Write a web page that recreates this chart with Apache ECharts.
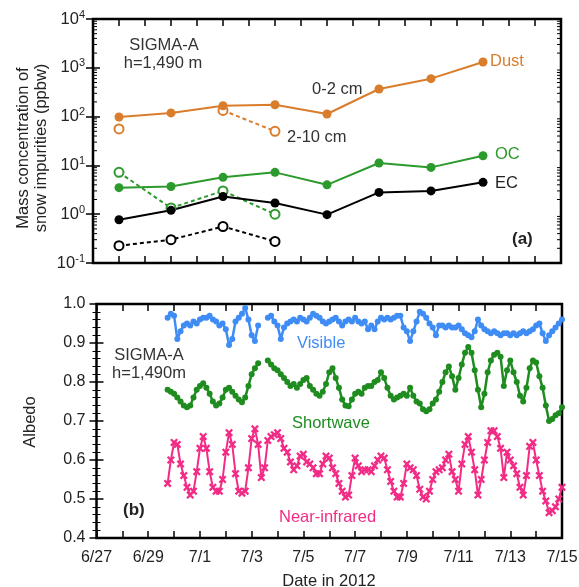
<!DOCTYPE html>
<html><head><meta charset="utf-8">
<script src="https://cdn.jsdelivr.net/npm/echarts@6/dist/echarts.min.js"></script>
<style>html,body{margin:0;padding:0;background:#fff}#c{width:579px;height:587px}</style>
</head><body><div id="c"></div>
<script>
// ---------- DATA ----------
const sampleDates = ['6/28','6/30','7/2','7/4','7/6','7/8','7/10','7/12'];
const dust02  = [98, 119, 167, 175, 113, 368, 599, 1315];
const dust210 = [56, null, 134, 50, null, null, null, null];
const oc02    = [3.5, 3.7, 5.7, 7.2, 4.0, 11.2, 9.1, 15.8];
const oc210   = [7.2, 1.34, 3.0, 1.0, null, null, null, null];
const ec02    = [0.77, 1.2, 2.3, 1.7, 0.98, 2.8, 3.0, 4.5];
const ec210   = [0.226, 0.30, 0.56, 0.277, null, null, null, null];
const xTickLabels = ['6/27','6/29','7/1','7/3','7/5','7/7','7/9','7/11','7/13','7/15'];
const albedoStart = '2012-06-29T18:00:00Z';
const albedoStepHours = 3;
const visible = [.965,.975,
 .97,.91,.93,.945,.95,.945,.955,.95,
 .96,.965,.965,.97,.96,.955,.945,.95,
 .935,.895,.91,.955,.965,.975,.99,.96,
 .92,.905,.945,null,null,.965,.97,.955,
 .945,.91,.94,.95,.955,.96,.955,.965,
 .96,.955,.965,.975,.97,.965,.955,.95,
 .955,.96,.965,.955,.945,.955,.96,.955,
 .965,.955,.95,.955,.935,.945,.935,.955,
 .965,.96,.965,.96,.965,.97,.97,.94,
 .93,.905,.93,.955,.98,.975,.965,.95,
 .94,.92,.945,.945,.94,.945,.94,.94,
 .945,.935,.925,.92,.915,.93,.96,.945,
 .935,.93,.925,.93,.925,.92,.925,.925,
 .92,.925,.92,.925,.93,.925,.93,.935,
 .945,.95,.925,.905,.92,.93,.94,.95,
 .96];
const shortwave = [.78,.775,
 .77,.76,.75,.74,.735,.74,.76,.78,
 .79,.797,.785,.77,.75,.74,.745,.76,
 .78,.785,.775,.765,.755,.748,.76,.79,
 .82,.835,.848,null,null,.855,.845,.835,
 .83,.82,.81,.80,.79,.795,.785,.795,
 .805,.81,.79,.78,.77,.765,.775,.795,
 .825,.835,.81,.785,.755,.74,.738,.755,
 .77,.775,.77,.785,.79,.79,.80,.805,
 .825,.81,.785,.765,.755,.76,.765,.77,
 .765,.785,.765,.75,.745,.73,.725,.73,
 .745,.755,.775,.80,.825,.84,.815,.78,
 .81,.845,.875,.89,.875,.83,.78,.735,
 .77,.825,.855,.87,.875,.865,.79,.83,
 .855,.825,.80,.765,.75,.785,.835,.855,
 .85,.815,.785,.74,.70,.705,.715,.72,
 .735];
const nearInfrared = [.54,.60,
 .645,.64,.59,.56,.53,.51,.52,.57,
 .63,.66,.63,.57,.53,.52,.52,.55,
 .62,.67,.64,.565,.52,.515,.52,.58,
 .655,.68,.64,.555,.58,.65,.66,.665,
 .67,.655,.63,.62,.595,.575,.585,.61,
 .615,.595,.59,.58,.565,.565,.59,.61,
 .605,.58,.565,.54,.52,.505,.51,.56,
 .605,.585,.57,.575,.575,.57,.585,.60,
 .61,.605,.575,.545,.52,.505,.505,.54,
 .59,.58,.575,.56,.525,.505,.50,.52,
 .55,.57,.575,.58,.60,.615,.57,.55,
 .52,.59,.64,.66,.62,.575,.51,.55,
 .60,.645,.675,.675,.66,.63,.555,.62,
 .60,.585,.565,.53,.51,.56,.635,.645,
 .60,.56,.52,.495,.465,.47,.48,.50,
 .53];

// ---------- helpers ----------
const T0 = Date.UTC(2012, 5, 27);
function dayOf(md){ const p = md.split('/').map(Number); return (Date.UTC(2012, p[0]-1, p[1]) - T0)/864e5; }
const sampleX = sampleDates.map(dayOf);
const pairs = arr => arr.map((v,i)=>[sampleX[i], v]);
const aStart = (Date.parse(albedoStart) - T0)/864e5;
const tseries = arr => arr.map((v,i)=>[aStart + i*albedoStepHours/24, v]);

const FONT = 'Liberation Sans, Arial, Helvetica, sans-serif';
const ORANGE = '#d97d2c', OCG = '#2c9a2c', BLUE = '#3f8cf5', SWG = '#1f8c1f', PINK = '#f22c86';

const axLine = {show:false};
const tick = {show:true, inside:true, length:7, lineStyle:{color:'#000', width:1.5}};
function xAx(grid, pos, labels){
  return {type:'value', gridIndex:grid, position:pos, min:0, max:18, interval:1,
    axisLine:axLine, axisTick:tick, splitLine:{show:false},
    axisLabel: labels ? {show:true, margin:12, fontFamily:FONT, fontSize:16, color:'#222',
      formatter: v => (Math.round(v)%2===0 ? xTickLabels[Math.round(v)/2] : '')} : {show:false}};
}
const X_SYM_PATH = 'path://M0,2L2,0L5,3L8,0L10,2L7,5L10,8L8,10L5,7L2,10L0,8L3,5Z';

const option = {
  animation:false,
  backgroundColor:'#fff',
  grid:[
    {left:93, top:19, width:468, height:244, outerBoundsMode:'none', show:true, borderColor:'#000', borderWidth:2.5, backgroundColor:'transparent'},
    {left:96.5, top:304, width:465.5, height:234, outerBoundsMode:'none', show:true, borderColor:'#000', borderWidth:2.5, backgroundColor:'transparent'}
  ],
  xAxis:[ xAx(0,'bottom',false), xAx(0,'top',false), xAx(1,'bottom',true), xAx(1,'top',false) ],
  yAxis:[
    {type:'log', logBase:10, gridIndex:0, position:'left', min:0.1, max:10000, interval:1,
      axisLine:axLine, axisTick:tick, splitLine:{show:false},
      axisLabel:{margin:8, fontFamily:FONT, color:'#222',
        formatter: v => '{b|10}{s|' + Math.round(Math.log10(v)) + '}',
        rich:{b:{fontSize:16.5, fontFamily:FONT, color:'#222', lineHeight:20},
              s:{fontSize:11, fontFamily:FONT, color:'#222', verticalAlign:'top', lineHeight:20}}}},
    {type:'log', logBase:10, gridIndex:0, position:'right', min:0.1, max:10000, interval:1,
      axisLine:axLine, axisTick:tick, splitLine:{show:false}, axisLabel:{show:false}},
    {type:'value', gridIndex:1, position:'left', min:0.4, max:1.0, interval:0.1,
      axisLine:axLine, axisTick:tick, minorTick:{show:true, splitNumber:5, length:4, lineStyle:{color:'#000', width:1}},
      splitLine:{show:false},
      axisLabel:{margin:11, fontFamily:FONT, fontSize:16, color:'#222', formatter: v => v.toFixed(1)}},
    {type:'value', gridIndex:1, position:'right', min:0.4, max:1.0, interval:0.1,
      axisLine:axLine, axisTick:tick, minorTick:{show:true, splitNumber:5, length:4, lineStyle:{color:'#000', width:1}},
      splitLine:{show:false}, axisLabel:{show:false}}
  ],
  series:[
    {type:'line', xAxisIndex:0, yAxisIndex:0, data:pairs(dust210), symbol:'emptyCircle', symbolSize:9,
      lineStyle:{color:ORANGE, width:2, type:[4,3]}, itemStyle:{color:ORANGE, borderColor:ORANGE, borderWidth:1.6}},
    {type:'line', xAxisIndex:0, yAxisIndex:0, data:pairs(oc210), symbol:'emptyCircle', symbolSize:9,
      lineStyle:{color:OCG, width:2, type:[4,3]}, itemStyle:{color:OCG, borderColor:OCG, borderWidth:1.6}},
    {type:'line', xAxisIndex:0, yAxisIndex:0, data:pairs(ec210), symbol:'emptyCircle', symbolSize:9,
      lineStyle:{color:'#000', width:2, type:[4,3]}, itemStyle:{color:'#000', borderColor:'#000', borderWidth:1.6}},
    {type:'line', xAxisIndex:0, yAxisIndex:0, data:pairs(dust02), symbol:'circle', symbolSize:9,
      lineStyle:{color:ORANGE, width:2}, itemStyle:{color:ORANGE}},
    {type:'line', xAxisIndex:0, yAxisIndex:0, data:pairs(oc02), symbol:'circle', symbolSize:9,
      lineStyle:{color:OCG, width:2}, itemStyle:{color:OCG}},
    {type:'line', xAxisIndex:0, yAxisIndex:0, data:pairs(ec02), symbol:'circle', symbolSize:9,
      lineStyle:{color:'#000', width:2}, itemStyle:{color:'#000'}},
    {type:'line', xAxisIndex:2, yAxisIndex:2, data:tseries(visible), symbol:'circle', symbolSize:6,
      lineStyle:{color:BLUE, width:2.5}, itemStyle:{color:BLUE}},
    {type:'line', xAxisIndex:2, yAxisIndex:2, data:tseries(shortwave), symbol:'circle', symbolSize:6,
      lineStyle:{color:SWG, width:2.5}, itemStyle:{color:SWG}},
    {type:'line', xAxisIndex:2, yAxisIndex:2, data:tseries(nearInfrared), symbol:X_SYM_PATH, symbolSize:8,
      lineStyle:{color:PINK, width:2}, itemStyle:{color:PINK}}
  ]
};

const chart = echarts.init(document.getElementById('c'), null, {renderer:'canvas'});
chart.setOption(option);

// annotations
function txt(t, x, y, color, opts){
  opts = opts || {};
  return {type:'text', x:x, y:y, rotation:opts.rot||0, z:100,
    style:{text:t, fill:color||'#222', textAlign:opts.align||'left', textVerticalAlign:'middle',
      font:(opts.bold?'bold ':'') + (opts.size||16.5) + 'px ' + FONT, lineHeight:opts.lh||19}};
}
const g = [
  txt('SIGMA-A', 164, 45, '#333', {align:'center', size:16.5}),
  txt('h=1,490 m', 163, 63, '#333', {align:'center', size:16.5}),
  txt('0-2 cm', 312, 89, '#333'),
  txt('2-10 cm', 287, 137, '#333'),
  txt('Dust', 490, 61, ORANGE),
  txt('OC', 495, 154, OCG),
  txt('EC', 495, 183, '#222'),
  txt('(a)', 512, 239, '#222', {bold:true, size:17}),
  txt('SIGMA-A', 149, 355, '#333', {align:'center'}),
  txt('h=1,490m', 149, 373, '#333', {align:'center'}),
  txt('Visible', 297, 343, BLUE),
  txt('Shortwave', 292, 423, SWG),
  txt('Near-infrared', 279, 517, PINK),
  txt('(b)', 123, 510, '#222', {bold:true, size:17}),
  txt('Albedo', 30, 422, '#222', {align:'center', rot:Math.PI/2}),
  txt('Mass concentration of\nsnow impurities (ppbw)', 32, 148, '#222', {align:'center', rot:Math.PI/2, lh:18}),
  txt('Date in 2012', 329, 581, '#222', {align:'center'})
];
// log minor ticks (2..9 per decade) via the log axis scale
const xl = chart.convertToPixel({xAxisIndex:0}, 0);
const xr = chart.convertToPixel({xAxisIndex:0}, 18);
for (let e = -1; e < 4; e++){
  for (let k = 2; k <= 9; k++){
    const y = chart.convertToPixel({yAxisIndex:0}, k*Math.pow(10,e));
    g.push({type:'line', z:50, shape:{x1:xl, y1:y, x2:xl+4, y2:y}, style:{stroke:'#000', lineWidth:1}});
    g.push({type:'line', z:50, shape:{x1:xr, y1:y, x2:xr-4, y2:y}, style:{stroke:'#000', lineWidth:1}});
  }
}
chart.setOption({graphic:g});
</script></body></html>
